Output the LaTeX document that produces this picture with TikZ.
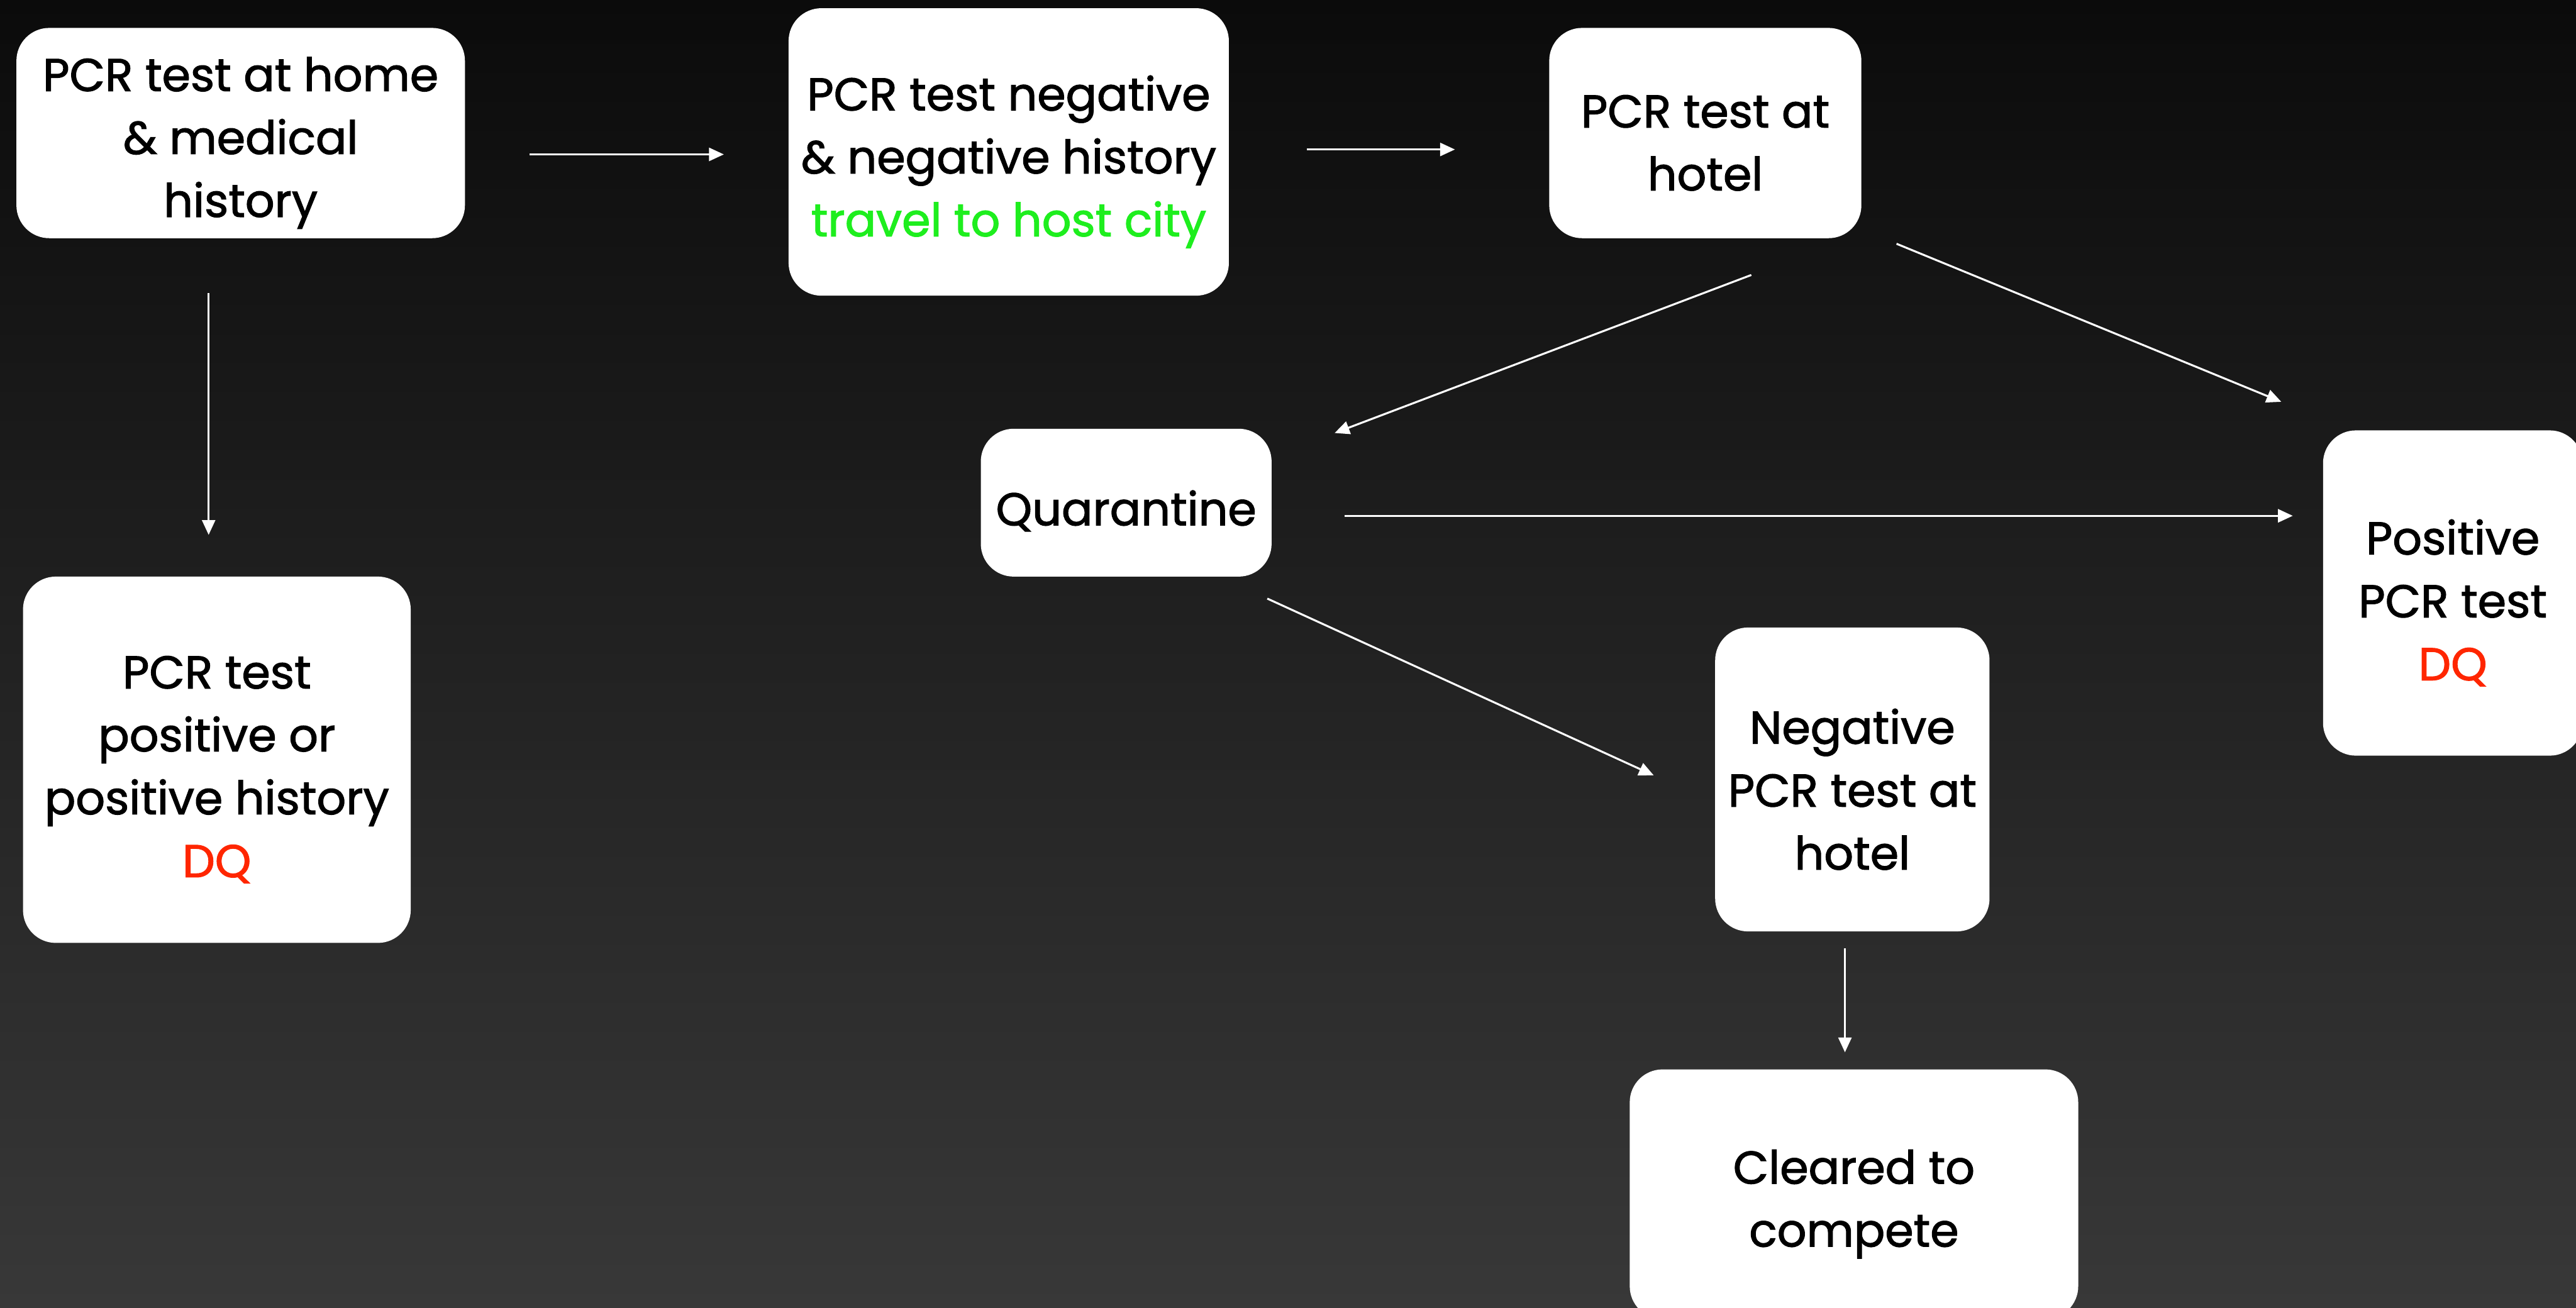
\documentclass[tikz,border=0pt]{standalone}
\usepackage{fontspec}
\setmainfont{Poppins}[FakeBold=1.6,AutoFakeBold=1.6]
\usetikzlibrary{arrows.meta,calc}
\definecolor{dqred}{RGB}{255,38,0}
\definecolor{gogreen}{RGB}{30,238,30}
\tikzset{
  box/.style={fill=white, rounded corners=10pt, inner sep=0pt},
  txt/.style={text=black, align=center, inner sep=0pt, font=\bfseries\fontsize{14}{19.15}\selectfont},
  arr/.style={draw=white, line width=0.6pt, -{Triangle[length=4.5pt,width=4pt]}}
}
\begin{document}
\begin{tikzpicture}[x=0.5pt,y=-0.5pt]
\useasboundingbox (0,0) rectangle (1568,796);
\shade[top color={rgb,255:red,11;green,11;blue,11}, bottom color={rgb,255:red,56;green,56;blue,56}] (0,0) rectangle (1568,796);

\node[box, minimum width=136.5pt, minimum height=64pt] (A) at (146.5,81) {};
\node[box, minimum width=134pt, minimum height=87.5pt] (B) at (614,92.5) {};
\node[box, minimum width=95pt, minimum height=64pt] (C) at (1038,81) {};
\node[box, minimum width=88.5pt, minimum height=45pt] (D) at (685.5,306) {};
\node[box, minimum width=118pt, minimum height=111.5pt] (E) at (132,462.5) {};
\node[box, minimum width=79pt, minimum height=99pt] (F) at (1493,361) {};
\node[box, minimum width=83.5pt, minimum height=92.5pt] (G) at (1127.5,474.5) {};
\node[box, minimum width=136.5pt, minimum height=76pt] (H) at (1128.5,727) {};

\node[txt] (At) at ($(A)+(0,6)$) {PCR test at home\\\& medical\\history};
\node[txt] (Bt) at ($(B)+(0,6)$) {PCR test negative\\\& negative history\\\textcolor{gogreen}{travel to host city}};
\node[txt] (Ct) at ($(C)+(0,6)$) {PCR test at\\hotel};
\node[txt] (Dt) at ($(D)+(0,5)$) {Quarantine};
\node[txt] (Et) at ($(E)+(0,6)$) {PCR test\\positive or\\positive history\\\textcolor{dqred}{DQ}};
\node[txt] (Ft) at ($(F)+(0,6)$) {Positive\\PCR test\\\textcolor{dqred}{DQ}};
\node[txt] (Gt) at ($(G)+(0,6)$) {Negative\\PCR test at\\hotel};
\node[txt] (Ht) at ($(H)+(0,6)$) {Cleared to\\compete};

\draw[arr] ($(A.east)+(39,13)$) -- ($(B.west)+(-39,1.5)$);
\draw[arr] ($(B.east)+(47,-1.5)$) -- ($(C.west)+(-57,10)$);
\draw[arr] ($(A.south)+(-19.5,33)$) -- ($(E.north)+(-5,-25)$);
\draw[arr] ($(C.south)+(28,22)$) -- ($(D.north east)+(38,3)$);
\draw[arr] ($(C.south east)+(21,3)$) -- ($(F.north west)+(-25,-17)$);
\draw[arr] ($(D.east)+(44,8)$) -- ($(F.west)+(-18,-47)$);
\draw[arr] ($(D.south east)+(-3,13)$) -- ($(G.west)+(-37,-2.5)$);
\draw[arr] ($(G.south)+(-4.5,10)$) -- ($(H.north)+(-5.5,-10)$);
\end{tikzpicture}
\end{document}
